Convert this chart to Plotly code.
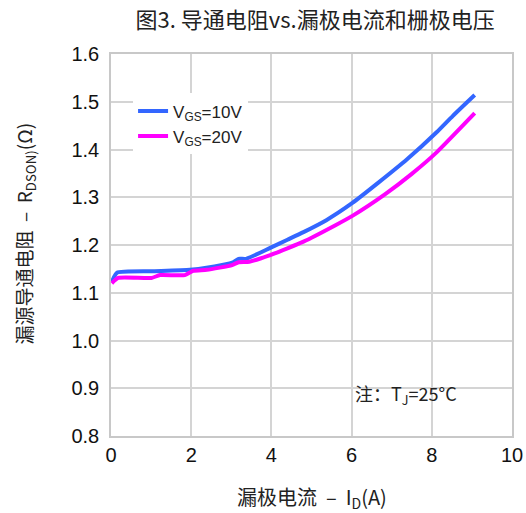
import plotly.graph_objects as go

# Data
id_10v = [0.02, 0.15, 1.0, 1.97, 2.58, 3.02, 3.18, 3.37, 3.97, 4.40, 4.80, 5.37, 6.02, 6.66, 7.39, 8.12, 8.52, 9.07]
r_10v = [1.123, 1.142, 1.145, 1.148, 1.155, 1.163, 1.171, 1.171, 1.194, 1.211, 1.227, 1.252, 1.288, 1.330, 1.380, 1.436, 1.470, 1.514]

id_20v = [0.02, 0.18, 1.01, 1.22, 1.84, 2.05, 2.39, 3.02, 3.18, 3.45, 3.97, 4.40, 4.80, 5.61, 6.02, 6.83, 7.50, 8.12, 9.07]
r_20v = [1.120, 1.131, 1.131, 1.137, 1.137, 1.146, 1.148, 1.158, 1.164, 1.165, 1.179, 1.193, 1.207, 1.242, 1.261, 1.306, 1.349, 1.394, 1.476]

x_ticks = [0, 2, 4, 6, 8, 10]
y_ticks = [0.8, 0.9, 1.0, 1.1, 1.2, 1.3, 1.4, 1.5, 1.6]

SANS = "Arial"
CJK = "Noto Sans CJK SC"
GRID = "#d4d4d4"

fig = go.Figure()
fig.add_trace(go.Scatter(x=id_10v, y=r_10v, mode="lines", name="V<sub>GS</sub>=10V",
                         line=dict(color="#3366ff", width=4, shape="spline", smoothing=0.5)))
fig.add_trace(go.Scatter(x=id_20v, y=r_20v, mode="lines", name="V<sub>GS</sub>=20V",
                         line=dict(color="#ff00ff", width=4, shape="spline", smoothing=0.5)))

fig.update_layout(
    width=526, height=513,
    margin=dict(l=111, r=14, t=54, b=77, autoexpand=False),
    paper_bgcolor="white", plot_bgcolor="white",
    title=dict(text="图3. 导通电阻vs.漏极电流和栅极电压", x=0.599, xanchor="center",
               y=0.960, yanchor="middle", font=dict(family=CJK, size=22, color="#222")),
    font=dict(family=SANS, color="black"),
    showlegend=True,
    legend=dict(x=0.055, y=0.897, xanchor="left", yanchor="top", bgcolor="white",
                font=dict(family=SANS, size=17, color="#222"), itemwidth=30,
                tracegroupgap=0),
    xaxis=dict(range=[0, 10], tickvals=x_ticks, showgrid=True, gridcolor=GRID, gridwidth=1.5,
               showline=True, linecolor="#c8c8c8", linewidth=1.5, mirror=True, zeroline=False,
               ticks="", automargin=False, tickfont=dict(family=SANS, size=20, color="#111")),
    yaxis=dict(range=[0.8, 1.6], tickvals=y_ticks, tickformat=".1f", showgrid=True,
               gridcolor=GRID, gridwidth=1.5, showline=True, linecolor="#c8c8c8", linewidth=1.5,
               mirror=True, zeroline=False, ticks="", ticklabelstandoff=6, automargin=False,
               tickfont=dict(family=SANS, size=20, color="#111")),
    annotations=[
        dict(x=8.68, y=0.886, xref="x", yref="y", text="注：T<sub>J</sub>=25°C",
             showarrow=False, xanchor="right", yanchor="middle",
             font=dict(family=CJK, size=18, color="#222")),
        dict(x=0.5, y=0, xref="paper", yref="paper", yshift=-61,
             text="漏极电流  –  I<sub>D</sub>(A)", showarrow=False,
             xanchor="center", yanchor="middle", font=dict(family=CJK, size=20, color="#222")),
        dict(x=0, y=0.53, xref="paper", yref="paper", xshift=-86, textangle=-90,
             text="漏源导通电阻  –  R<sub>DSON)</sub>(Ω)", showarrow=False,
             xanchor="center", yanchor="middle", font=dict(family=CJK, size=19, color="#222")),
    ],
)

fig.write_html("out.html", config={"displayModeBar": False},
               post_script="document.body.style.margin='0';")
